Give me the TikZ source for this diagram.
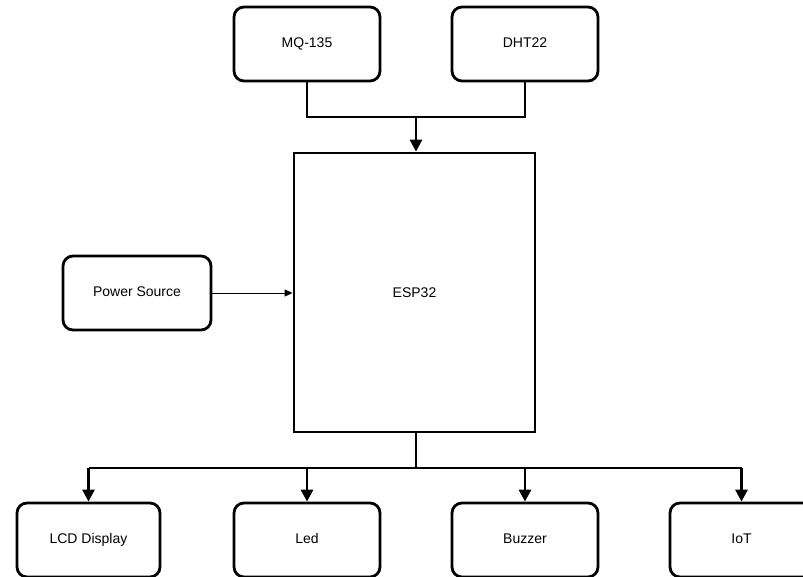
\documentclass[tikz,border=0pt]{standalone}
\usepackage{fontspec}
\setmainfont{Liberation Sans}
\usetikzlibrary{arrows.meta}
\begin{document}
\begin{tikzpicture}[x=1pt,y=-1pt,
  box/.style={draw=black,line width=2.8pt,rounded corners=10pt,fill=white,
    minimum width=146pt,minimum height=74pt,inner sep=0pt,text height=10pt,text depth=3pt,
    font=\fontsize{14}{16}\selectfont},
  bigbox/.style={draw=black,line width=2.8pt,fill=white,minimum width=241pt,minimum height=279pt,
    inner sep=0pt,font=\fontsize{14}{16}\selectfont},
  conn/.style={line width=2.8pt,-{Triangle[length=12pt,width=12pt]}},
  thin/.style={line width=1pt,-{Triangle[length=8pt,width=7pt]}}]
\useasboundingbox (0,0) rectangle (803,576);
\clip (0,0) rectangle (803,576);
\fill[white] (0,0) rectangle (803,576);
\node[box] (mq) at (307,44) {MQ-135};
\node[box] (dht) at (525,44) {DHT22};
\node[bigbox] (esp) at (414.5,292.5) {ESP32};
\node[box,minimum width=148pt] (pwr) at (137,293) {Power Source};
\node[box,minimum width=143pt] (lcd) at (88.5,540) {LCD Display};
\node[box] (led) at (307,540) {Led};
\node[box] (buz) at (525,540) {Buzzer};
\node[box,minimum width=143pt] (iot) at (741.5,540) {IoT};
\coordinate (jt) at (416,117);
\coordinate (jb) at (416,468);
\draw[line width=2.8pt] (mq.south) |- (jt) -| (dht.south);
\draw[conn] (jt) -- (jt |- esp.north);
\draw[thin] (pwr.east) -- (esp.west |- pwr.east);
\draw[line width=2.8pt] (jb |- esp.south) -- (jb);
\draw[line width=2.8pt] (lcd.north |- jb) -- (iot.north |- jb);
\draw[conn] (lcd.north |- jb) -- (lcd.north);
\draw[conn] (led.north |- jb) -- (led.north);
\draw[conn] (buz.north |- jb) -- (buz.north);
\draw[conn] (iot.north |- jb) -- (iot.north);
\end{tikzpicture}
\end{document}
